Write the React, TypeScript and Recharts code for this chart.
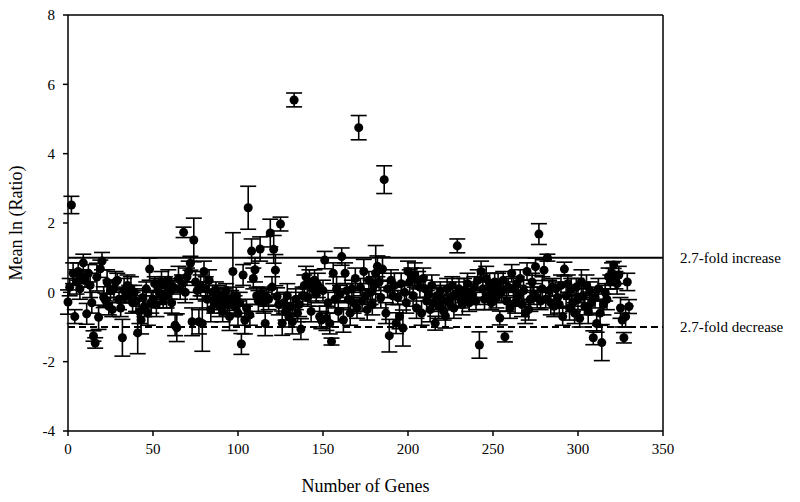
import {
  ScatterChart,
  Scatter,
  XAxis,
  YAxis,
  ErrorBar,
  ReferenceLine,
} from "recharts";

// mean ln(ratio) per gene, gene 0..330
const means: number[] = [
  -0.28, 0.15, 2.52, 0.55, -0.7, 0.3, 0.6, 0.1, 0.45, 0.85,
  0.35, -0.62, 0.55, 0.2, -0.3, -1.26, -1.46, 0.44, -0.72, 0.68,
  0.9, -0.14, -0.22, 0.3, -0.4, 0.05, -0.5, 0.1, 0.3, 0.35,
  -0.2, -0.45, -1.31, 0.05, -0.1, 0.2, -0.05, 0.1, -0.3, 0.0,
  -0.25, -1.17, -0.55, -0.8, -0.15, -0.4, 0.1, -0.6, 0.67, -0.3,
  -0.2, 0.25, -0.35, 0.1, -0.05, 0.3, -0.25, 0.2, -0.1, 0.35,
  0.05, -0.3, 0.15, -0.95, -1.02, 0.4, 0.1, 0.25, 1.73, 0.0,
  0.45, 0.6, 0.84, -0.85, 1.51, 0.3, 0.05, -0.85, 0.2, -0.9,
  0.6, 0.1, -0.2, 0.35, -0.5, 0.0, -0.3, 0.05, -0.15, -0.4,
  -0.1, -0.55, -0.25, 0.05, -0.35, -0.7, -0.2, 0.6, -0.4, -0.1,
  -0.6, -0.3, -1.49, 0.5, -0.8, -0.45, 2.44, -0.65, 1.19, 0.4,
  0.65, -0.1, -0.25, 1.25, -0.05, -0.3, -0.9, -0.15, -0.2, 1.71,
  0.15, 1.24, 0.64, -0.12, -0.35, 1.97, -0.89, -0.3, -0.55, -0.1,
  -0.7, -0.4, -0.85, 5.55, -0.2, -0.6, -0.35, -1.06, -0.1, 0.2,
  0.45, -0.15, 0.3, -0.55, 0.1, 0.35, -0.05, 0.2, -0.7, -0.8,
  0.05, 0.93, -0.75, -0.3, -0.9, -1.42, 0.55, -0.2, 0.1, -0.55,
  -0.05, 1.03, -0.8, 0.55, 0.05, -0.2, -0.6, 0.1, -0.3, 0.4,
  -0.45, 4.75, 0.15, -0.25, 0.6, -0.1, -0.5, 0.35, 0.0, -0.35,
  0.2, 0.55, 0.75, 0.3, -0.15, 0.67, 3.25, -0.6, 0.1, -1.25,
  0.35, -0.1, 0.2, -0.89, -0.15, -0.7, 0.25, -1.03, 0.0, -0.3,
  0.6, 0.3, 0.45, -0.1, 0.5, -0.45, 0.35, 0.15, -0.6, 0.4,
  0.1, -0.25, -0.05, -0.5, 0.2, -0.3, -0.89, -0.1, -0.4, 0.05,
  -0.2, -0.55, -0.68, 0.1, -0.3, -0.15, 0.2, -0.45, -0.05, 1.34,
  0.1, -0.2, -0.35, 0.05, -0.1, 0.25, -0.3, 0.0, -0.15, 0.15,
  -0.25, 0.35, -1.52, 0.6, 0.1, -0.2, 0.4, -0.1, 0.25, -0.3,
  0.05, 0.3, -0.15, 0.2, -0.74, 0.0, 0.35, -1.28, -0.25, 0.15,
  -0.45, 0.55, 0.1, -0.3, 0.25, -0.1, 0.4, -0.35, 0.05, -0.6,
  0.6, -0.5, -0.2, 0.3, -0.05, 0.74, -0.15, 1.68, -0.25, 0.1,
  0.64, -0.2, 1.0, 0.05, -0.3, 0.15, -0.4, 0.1, -0.15, -0.35,
  0.2, -0.7, 0.67, -0.1, 0.25, -0.45, 0.1, -0.3, -0.6, 0.15,
  -0.2, -0.75, 0.3, -0.1, -0.4, 0.2, -0.55, 0.05, -0.3, -1.31,
  -0.15, -0.9, 0.1, -0.6, -1.45, -0.35, 0.0, -0.2, 0.45, 0.3,
  0.55, 0.79, 0.35, 0.25, 0.5, -0.45, -0.8, -1.31, -0.7, 0.3,
  -0.41,
];

// half-length of each error bar
const errors: number[] = [
  0.35, 0.25, 0.25, 0.3, 0.2, 0.35, 0.25, 0.3, 0.2, 0.25,
  0.2, 0.3, 0.25, 0.35, 0.3, 0.15, 0.15, 0.4, 0.35, 0.25,
  0.25, 0.3, 0.2, 0.35, 0.25, 0.3, 0.2, 0.25, 0.3, 0.2,
  0.3, 0.25, 0.53, 0.35, 0.2, 0.3, 0.25, 0.35, 0.3, 0.2,
  0.3, 0.6, 0.35, 0.4, 0.25, 0.3, 0.2, 0.35, 0.32, 0.3,
  0.25, 0.2, 0.35, 0.3, 0.25, 0.3, 0.2, 0.25, 0.35, 0.3,
  0.25, 0.3, 0.2, 0.3, 0.4, 0.35, 0.3, 0.25, 0.15, 0.3,
  0.25, 0.3, 0.2, 0.4, 0.63, 0.3, 0.25, 0.35, 0.3, 0.8,
  0.3, 0.35, 0.25, 0.3, 0.35, 0.2, 0.3, 0.25, 0.35, 0.3,
  0.25, 0.3, 0.35, 0.2, 0.3, 0.4, 0.25, 1.12, 0.3, 0.25,
  0.35, 0.3, 0.3, 0.3, 0.4, 0.25, 0.62, 0.3, 0.35, 0.3,
  0.35, 0.25, 0.3, 0.35, 0.2, 0.3, 0.35, 0.25, 0.3, 0.4,
  0.3, 0.4, 0.45, 0.25, 0.3, 0.2, 0.35, 0.3, 0.25, 0.35,
  0.3, 0.25, 0.35, 0.2, 0.3, 0.25, 0.35, 0.3, 0.25, 0.3,
  0.3, 0.25, 0.35, 0.3, 0.2, 0.3, 0.25, 0.35, 0.3, 0.25,
  0.3, 0.25, 0.35, 0.3, 0.3, 0.1, 0.3, 0.25, 0.35, 0.3,
  0.25, 0.25, 0.35, 0.3, 0.2, 0.3, 0.35, 0.25, 0.3, 0.3,
  0.3, 0.35, 0.25, 0.3, 0.35, 0.2, 0.3, 0.25, 0.35, 0.3,
  0.25, 0.8, 0.3, 0.25, 0.3, 0.35, 0.4, 0.3, 0.25, 0.47,
  0.3, 0.25, 0.35, 0.3, 0.2, 0.35, 0.3, 0.52, 0.25, 0.3,
  0.3, 0.35, 0.25, 0.3, 0.35, 0.3, 0.25, 0.3, 0.35, 0.3,
  0.25, 0.3, 0.2, 0.35, 0.3, 0.25, 0.2, 0.3, 0.35, 0.25,
  0.3, 0.25, 0.35, 0.3, 0.2, 0.3, 0.25, 0.3, 0.35, 0.2,
  0.3, 0.25, 0.3, 0.35, 0.2, 0.3, 0.25, 0.3, 0.2, 0.3,
  0.25, 0.3, 0.38, 0.3, 0.25, 0.3, 0.35, 0.25, 0.3, 0.2,
  0.3, 0.25, 0.3, 0.35, 0.2, 0.3, 0.25, 0.15, 0.3, 0.25,
  0.3, 0.25, 0.35, 0.3, 0.2, 0.3, 0.25, 0.35, 0.3, 0.3,
  0.25, 0.3, 0.35, 0.25, 0.3, 0.25, 0.3, 0.3, 0.25, 0.35,
  0.3, 0.25, 0.1, 0.3, 0.35, 0.25, 0.3, 0.2, 0.3, 0.25,
  0.3, 0.25, 0.2, 0.3, 0.25, 0.35, 0.3, 0.25, 0.3, 0.25,
  0.3, 0.25, 0.35, 0.3, 0.25, 0.3, 0.35, 0.25, 0.3, 0.2,
  0.3, 0.25, 0.3, 0.35, 0.52, 0.3, 0.25, 0.3, 0.25, 0.2,
  0.3, 0.1, 0.25, 0.3, 0.25, 0.3, 0.2, 0.15, 0.3, 0.25,
  0.2,
];

const xTicks = [0, 50, 100, 150, 200, 250, 300, 350];
const yTicks = [-4, -2, 0, 2, 4, 6, 8];

const FONT = '"Liberation Serif", "Times New Roman", serif';
const tickStyle = { fontSize: 15, fill: "#000", fontFamily: FONT };

const data = means.map((m, i) => ({ gene: i, mean: m, err: errors[i] }));

export default function App() {
  return (
    <div style={{ position: "absolute", left: 0, top: 0, background: "#fff" }}>
      <ScatterChart
        width={800}
        height={502}
        margin={{ top: 15, right: 137, bottom: 41, left: 0 }}
      >
        <XAxis
          type="number"
          dataKey="gene"
          domain={[0, 350]}
          ticks={xTicks}
          height={30}
          tick={tickStyle}
          tickSize={5}
          tickMargin={7}
          stroke="#000"
          strokeWidth={1.5}
          label={{
            value: "Number of Genes",
            position: "bottom",
            offset: 18,
            style: { fontSize: 18, fill: "#000", fontFamily: FONT },
          }}
        />
        <YAxis
          type="number"
          dataKey="mean"
          domain={[-4, 8]}
          ticks={yTicks}
          width={68}
          tick={tickStyle}
          tickSize={5}
          tickMargin={8}
          stroke="#000"
          strokeWidth={1.5}
          label={{
            value: "Mean ln (Ratio)",
            angle: -90,
            position: "insideLeft",
            offset: 16,
            style: {
              fontSize: 18,
              fill: "#000",
              fontFamily: FONT,
              textAnchor: "middle",
            },
          }}
        />
        <ReferenceLine y={8} stroke="#000" strokeWidth={1.5} />
        <ReferenceLine x={350} stroke="#000" strokeWidth={1.5} />
        <ReferenceLine
          y={1}
          stroke="#000"
          strokeWidth={2}
          label={{
            value: "2.7-fold increase",
            position: "right",
            offset: 17,
            style: { fontSize: 15, fill: "#000", fontFamily: FONT },
          }}
        />
        <ReferenceLine
          y={-1}
          stroke="#000"
          strokeWidth={2}
          strokeDasharray="7 4"
          label={{
            value: "2.7-fold decrease",
            position: "right",
            offset: 17,
            style: { fontSize: 15, fill: "#000", fontFamily: FONT },
          }}
        />
        <Scatter data={data} fill="#000" isAnimationActive={false}>
          <ErrorBar
            dataKey="err"
            direction="y"
            width={8}
            stroke="#000"
            strokeWidth={1.6}
          />
        </Scatter>
      </ScatterChart>
    </div>
  );
}
